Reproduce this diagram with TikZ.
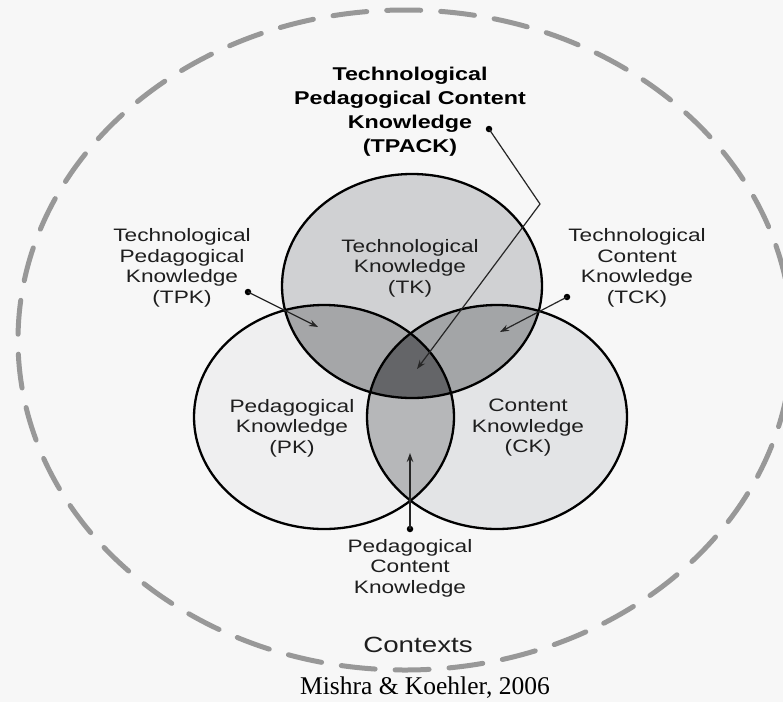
\documentclass[tikz,border=0pt]{standalone}
\usepackage{fontspec}
\setmainfont{Liberation Sans}[FakeStretch=1.26]
\newfontfamily\citefont{Liberation Serif}
\usetikzlibrary{arrows.meta}
\definecolor{paper}{RGB}{247,247,247}
\definecolor{ctxgray}{RGB}{152,152,152}
\definecolor{inktext}{RGB}{30,30,30}
\definecolor{tkfill}{RGB}{208,209,211}
\definecolor{pkfill}{RGB}{239,239,240}
\definecolor{ckfill}{RGB}{227,228,230}
\definecolor{tpkfill}{RGB}{165,166,168}
\definecolor{tckfill}{RGB}{163,165,167}
\definecolor{pckfill}{RGB}{182,183,185}
\definecolor{tpackfill}{RGB}{100,101,104}

\newcommand{\tkshape}{(412,286) ellipse [x radius=130, y radius=112]}
\newcommand{\pkshape}{(324,417) ellipse [x radius=130, y radius=112]}
\newcommand{\ckshape}{(497,417) ellipse [x radius=130, y radius=112]}

\begin{document}
\begin{tikzpicture}[x=1pt, y=-1pt,
    txt/.style={text=inktext, align=center, inner sep=0pt, font=\fontsize{18}{20.5}\selectfont},
    title/.style={text=black, align=center, inner sep=0pt, font=\bfseries\fontsize{18.5}{24}\selectfont},
    dot/.style={circle, fill=black, inner sep=0pt, minimum size=6.5pt},
    pointer/.style={draw=black!85, line width=1.2pt, -{Stealth[length=9pt, width=6.5pt]}},
    ring/.style={draw=black, line width=2.3pt}]
    \useasboundingbox (0,0) rectangle (783,702);
    \fill[paper] (0,0) rectangle (783,702);

    % Contexts
    \draw[ctxgray, line width=5pt, line cap=round, dash pattern=on 34pt off 20pt]
        (405,340) ellipse [x radius=387, y radius=330];

    % Knowledge areas
    \fill[tkfill] \tkshape;
    \fill[pkfill] \pkshape;
    \fill[ckfill] \ckshape;
    \begin{scope}
        \clip \tkshape;
        \fill[tpkfill] \pkshape;
        \fill[tckfill] \ckshape;
    \end{scope}
    \begin{scope}
        \clip \pkshape;
        \fill[pckfill] \ckshape;
    \end{scope}
    \begin{scope}
        \clip \tkshape;
        \clip \pkshape;
        \fill[tpackfill] \ckshape;
    \end{scope}
    \draw[ring] \tkshape;
    \draw[ring] \pkshape;
    \draw[ring] \ckshape;

    \node[txt] (tk) at (410,268) {Technological\\Knowledge\\(TK)};
    \node[txt] (pk) at (292,428) {Pedagogical\\Knowledge\\(PK)};
    \node[txt] (ck) at (528,428) {Content\\Knowledge\\(CK)};

    % Labels outside
    \node[title] (tpack) at (410,112) {Technological\\Pedagogical Content\\Knowledge\\(TPACK)};
    \node[txt] (tpk) at (182,268) {Technological\\Pedagogical\\Knowledge\\(TPK)};
    \node[txt] (tck) at (637,268) {Technological\\Content\\Knowledge\\(TCK)};
    \node[txt] (pck) at (410,568) {Pedagogical\\Content\\Knowledge};
    \node[txt, font=\fontsize{22}{24}\selectfont] (contexts) at (418,645) {Contexts};
    \node[inner sep=0pt, font=\citefont\fontsize{25.5}{28}\selectfont] (cite) at (425,688) {Mishra \& Koehler, 2006};

    % Leaders
    \node[dot] (tpackdot) at (489,129) {};
    \node[dot] (tpkdot) at (248,292) {};
    \node[dot] (tckdot) at (567,297) {};
    \node[dot] (pckdot) at (410,529) {};
    \coordinate (tpackbend) at (540,204);
    \coordinate (tpackend) at (417,369);
    \coordinate (tpkend) at (318,327);
    \coordinate (tckend) at (500,332);
    \coordinate (pckend) at (410,453);
    \draw[pointer] (tpackdot.center) -- (tpackbend) -- (tpackend);
    \draw[pointer] (tpkdot.center) -- (tpkend);
    \draw[pointer] (tckdot.center) -- (tckend);
    \draw[pointer] (pckdot.center) -- (pckend);
\end{tikzpicture}
\end{document}
